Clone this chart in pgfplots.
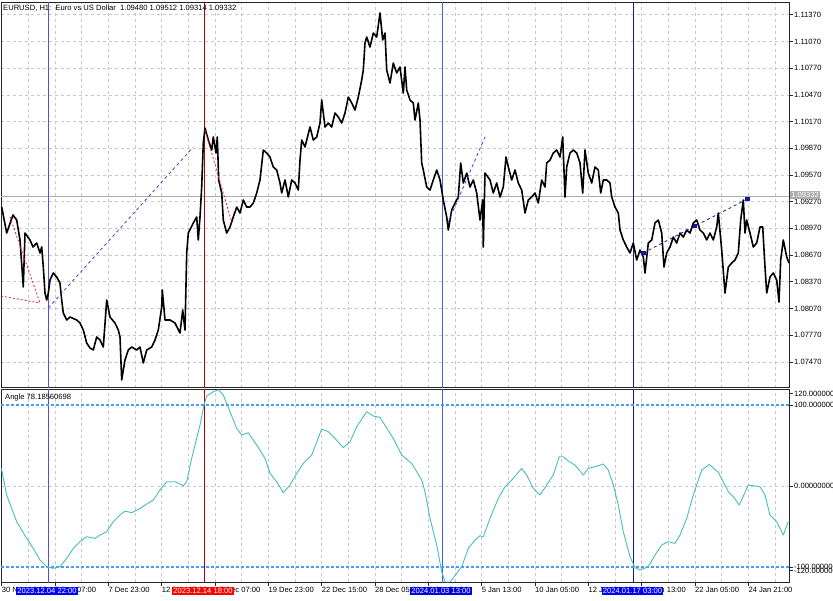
\documentclass[border=0pt]{standalone}
\usepackage{fontspec}
\setmainfont{Liberation Sans}
\usepackage{pgfplots}
\pgfplotsset{compat=1.18}
\definecolor{gridc}{HTML}{C8C8C8}
\definecolor{vline1}{HTML}{5050D8}
\definecolor{vline2}{HTML}{B00000}
\definecolor{vline3}{HTML}{4060DC}
\definecolor{vline4}{HTML}{14149C}
\definecolor{indic}{HTML}{48BEBE}
\definecolor{levblue}{RGB}{70,155,255}
\definecolor{pricegray}{HTML}{ADADAD}
\definecolor{trendblue}{HTML}{4040D0}
\definecolor{trendred}{HTML}{F02020}

\pgfplotstableread{
x y
1.7 1.09209
6.7 1.08917
13 1.09120
16.7 1.09063
20 1.08839
23.3 1.08311
25 1.08917
30 1.08839
33 1.08760
36.7 1.08805
40 1.08693
41.7 1.08760
43.3 1.08535
45 1.08243
46.7 1.08164
48.3 1.08243
50 1.08389
53.3 1.08468
56.7 1.08423
60 1.08355
61.7 1.08164
63.3 1.08018
66.7 1.07940
70 1.07973
76.7 1.07940
80 1.07906
83.3 1.07827
86.7 1.07681
90 1.07625
93.3 1.07603
96.7 1.07749
100 1.07715
103.3 1.07636
106.7 1.08164
110 1.07973
115 1.07906
118.3 1.07827
120 1.07749
121.7 1.07266
125 1.07490
128.3 1.07603
131.7 1.07636
136.7 1.07603
140 1.07636
143.3 1.07457
146.7 1.07603
151.7 1.07636
155 1.07715
158.3 1.07827
161.7 1.08086
162.3 1.08277
165 1.07940
170 1.07940
175 1.07906
180 1.07794
182.7 1.08052
185 1.07827
186.7 1.08693
188.3 1.08917
193.3 1.09030
196.7 1.09097
198.3 1.08839
200 1.09097
201.7 1.09434
203.3 1.09929
205 1.10097
208.3 1.09962
211.7 1.09850
213.3 1.09996
216 1.09816
217.3 1.09996
218.7 1.09513
221.7 1.09367
223.3 1.09063
226.7 1.08917
230 1.08985
233.3 1.09097
236.7 1.09209
240 1.09142
243.3 1.09288
246.7 1.09209
250 1.09209
253.3 1.09254
256.7 1.09367
260 1.09513
263.3 1.09850
266.7 1.09816
270 1.09771
273.3 1.09659
276.7 1.09625
280 1.09479
281.7 1.09367
285 1.09513
288.3 1.09322
291.7 1.09513
295 1.09479
298.3 1.09400
300 1.09737
301.7 1.09962
305 1.09884
310 1.10108
313.3 1.09962
316.7 1.09996
320 1.10153
321.7 1.10412
325 1.10108
328.3 1.10153
331.7 1.10108
335 1.10266
338.3 1.10221
341.7 1.10153
345 1.10266
348.3 1.10445
351.7 1.10378
355 1.10299
358.3 1.10445
361.7 1.10636
363.3 1.10749
365 1.11052
366.7 1.11119
370 1.11007
373.3 1.11164
376.7 1.11119
380 1.11389
382.7 1.11086
385 1.11164
386.7 1.10749
390 1.10603
393.3 1.10827
396.7 1.10715
400 1.10782
403.3 1.10490
405 1.10782
406.7 1.10524
410 1.10412
413.3 1.10378
415 1.10187
418.3 1.10378
420 1.10187
421.7 1.09704
423.3 1.09625
426.7 1.09434
430 1.09400
433.3 1.09513
436.7 1.09625
440 1.09513
443.3 1.09288
446.7 1.09097
448.3 1.08951
451.7 1.09176
455 1.09254
458.3 1.09322
460.7 1.09704
463.3 1.09479
466.7 1.09591
470 1.09434
473.3 1.09513
476.7 1.09367
480 1.09063
482.7 1.09288
483.3 1.08760
485 1.09591
490 1.09513
493.3 1.09367
496.7 1.09479
500 1.09322
503.3 1.09434
506 1.09771
508.3 1.09659
511.7 1.09513
515 1.09625
518.3 1.09479
521.7 1.09400
525 1.09142
528.3 1.09288
531.7 1.09322
535 1.09367
538.3 1.09254
541.7 1.09513
545 1.09434
546.7 1.09704
550 1.09737
553.3 1.09816
556.7 1.09850
560 1.09771
562.7 1.09996
565 1.09322
566.7 1.09659
570 1.09816
573.3 1.09850
576.7 1.09816
580 1.09704
582.7 1.09367
585 1.09850
588.3 1.09591
591.7 1.09479
595 1.09659
598.3 1.09625
600.7 1.09367
603.3 1.09513
606.7 1.09513
610 1.09479
611.7 1.09322
615 1.09209
618.3 1.09142
620 1.08951
623.3 1.08839
626.7 1.08760
630 1.08693
633.3 1.08805
636.7 1.08614
640 1.08726
643.3 1.08648
645 1.08468
648.3 1.08805
651.7 1.08839
655 1.09030
658.3 1.09063
661.7 1.08917
664 1.08535
666.7 1.08693
670 1.08760
673.3 1.08872
676.7 1.08805
680 1.08917
683.3 1.08872
686.7 1.08951
690 1.08917
693.3 1.09030
696.7 1.09063
700 1.08951
703.3 1.08917
706.7 1.08839
710 1.08917
713.3 1.08839
716.7 1.08985
718.3 1.09142
721.7 1.08726
725 1.08243
728.3 1.08535
731.7 1.08580
735 1.08614
738.3 1.08693
740.7 1.09063
743.3 1.09288
745 1.08917
746.7 1.09063
750 1.08917
753.3 1.08760
756.7 1.08805
760 1.08985
762.7 1.08985
765 1.08535
766.7 1.08243
770 1.08423
773.3 1.08468
776.7 1.08389
779 1.08142
780.7 1.08614
783.3 1.08839
786.7 1.08648
789 1.08580
}\pricetable

\pgfplotstableread{
x v
1 22
1.7 19.8
6.7 -11.1
16.7 -44.0
26.7 -64.6
33.3 -77.0
40 -91.4
46.7 -99.6
53.3 -101.6
60 -99.6
66.7 -89.3
73.3 -77.0
80 -68.7
86.7 -62.6
95 -64.6
100 -60.5
106.7 -56.4
113.3 -44.0
120 -35.8
125 -30.9
131.7 -32.9
140 -27.6
145 -23.5
153.3 -17.3
160 -4.9
166.7 5.3
175 5.3
183.3 0.4
186.7 5.3
191.7 34.2
200 75.3
204 100
206.7 111.1
213.3 116.5
218.3 118.9
223.3 112.3
230 91.8
236.7 71.2
241.7 63.0
248.3 65.8
256.7 50.6
265 34.2
270 15.6
276.7 5.3
283.3 -8.2
290 1.2
296.7 15.6
303.3 28.0
311.7 38.3
321.7 70.4
328.3 67.1
335 58.8
343.3 47.3
350 54.7
356.7 73.3
366.7 91.8
373.3 86.4
380 84.8
390 65.0
393.3 58.8
401.7 38.3
411.7 28.0
421.7 7.4
425 -7.0
430 -39.9
436.7 -72.8
441.7 -105.8
445 -118.5
450 -118.5
456.7 -107.8
461.7 -99.6
468.3 -77.0
475 -66.7
480 -61.3
483.3 -62.6
490 -39.9
498.3 -15.2
505 -0.8
511.7 7.4
521.7 21.8
526.7 13.6
533.3 -2.9
540 -11.1
546.7 1.2
553.3 13.6
559.3 36.2
563.3 36.2
568.3 30.9
575 25.9
583.3 13.6
588.3 21.8
595 23.9
603.3 27.2
608.3 19.8
613.3 1.2
618.3 -23.5
623.3 -56.4
630 -87.2
635 -100.8
640 -103.7
648.3 -99.6
655 -85.2
661.7 -72.8
668.3 -68.7
675 -70.8
680 -60.5
686.7 -39.9
693.3 -11.1
701.7 19.8
709.3 26.7
718.3 16.9
728.3 -7.0
733.3 -13.2
739.3 -23.5
748.3 1.2
760 -0.8
765 -11.1
770 -35.8
776.7 -44.0
783.3 -60.5
788.3 -44.0
}\angletable

\pgfplotsset{
  mtaxis/.style={
    scale only axis, width=788pt, xmin=1, xmax=789,
    axis line style={black!85, line width=0.8pt},
    grid style={gridc, dash pattern=on 3pt off 3pt, line width=0.6pt},
    tick align=outside, major tick length=4pt, minor tick length=0pt,
    tick style={black!85, line width=0.6pt},
    /pgf/number format/assume math mode=true,
    clip=true,
  }
}

\begin{document}
\fontsize{7.6}{9}\selectfont
\begin{tikzpicture}[x=1pt,y=1pt]
\clip (0,0) rectangle (833,-600);
\fill[white] (0,0) rectangle (833,-600);

% ---------- price panel ----------
\begin{axis}[mtaxis, at={(1pt,-2pt)}, anchor=north west, height=385.7pt,
  ymin=1.07179, ymax=1.11513,
  xtick={1.667,28.333,...,789}, xticklabels={}, xmajorgrids,
  xtick style={draw=none},
  ytick={1.0747,1.0777,1.0807,1.0837,1.0867,1.0897,1.0927,1.0957,1.0987,1.1017,1.1047,1.1077,1.1107,1.1137},
  yticklabels={1.07470,1.07770,1.08070,1.08370,1.08670,1.08970,1.09270,1.09570,1.09870,1.10170,1.10470,1.10770,1.11070,1.11370},
  ymajorgrids, ytick pos=right, yticklabel pos=right,
  yticklabel style={anchor=west, inner sep=1pt},
]
\addplot[pricegray, line width=0.7pt] coordinates {(1,1.09332) (789,1.09332)};
\addplot[vline1, line width=0.8pt] coordinates {(48,1.07) (48,1.12)};
\addplot[vline2, line width=0.8pt] coordinates {(204,1.07) (204,1.12)};
\addplot[vline3, line width=0.8pt] coordinates {(442,1.07) (442,1.12)};
\addplot[vline4, line width=0.8pt] coordinates {(633,1.07) (633,1.12)};
\addplot[black, line width=1.6pt, line join=round] table[x=x, y=y] {\pricetable};
\addplot[trendred, line width=0.8pt, dash pattern=on 2pt off 2pt] coordinates {(1,1.08209) (40,1.08131)};
\addplot[trendred, line width=0.8pt, dash pattern=on 2pt off 2pt] coordinates {(10,1.09097) (40,1.08131)};
\addplot[trendblue, line width=0.8pt, dash pattern=on 3pt off 3pt] coordinates {(48.3,1.08075) (193.3,1.09884)};
\addplot[trendred, line width=0.8pt, dash pattern=on 2pt off 2pt] coordinates {(205,1.10075) (232,1.09030)};
\addplot[trendblue, line width=0.8pt, dash pattern=on 3pt off 3pt] coordinates {(448.3,1.09041) (485,1.09996)};
\addplot[vline4, line width=0.8pt, dash pattern=on 3pt off 3pt, mark=square*, mark size=1.8pt, mark options={solid}] coordinates {(643.3,1.08693) (695,1.08996) (747.3,1.09299)};
\end{axis}

% ---------- indicator panel ----------
\begin{axis}[mtaxis, at={(1pt,-389pt)}, anchor=north west, height=193pt,
  ymin=-118.5, ymax=119.8,
  xtick={1.667,55,...,760}, minor xtick={28.333,81.667,...,789},
  xticklabels={30 Nov 14:00, 5 Dec 07:00, 7 Dec 23:00, 12 Dec 15:00, 15 Dec 07:00, 19 Dec 23:00, 22 Dec 15:00, 28 Dec 05:00, 2 Jan 21:00, 5 Jan 13:00, 10 Jan 05:00, 12 Jan 21:00, 17 Jan 13:00, 22 Jan 05:00, 24 Jan 21:00},
  xtick pos=bottom, xmajorgrids, xminorgrids, minor grid style={gridc, dash pattern=on 3pt off 3pt, line width=0.6pt},
  xticklabel style={anchor=north west, inner sep=1pt, xshift=-1pt},
  ytick={0}, yticklabels={0.00000000},
  ymajorgrids, ytick pos=right, yticklabel pos=right,
  yticklabel style={anchor=west, inner sep=1pt},
  extra y ticks={114,100,-100,-104.6}, extra y tick labels={120.000000,100.000000,-100.000000,-120.000000},
  extra y tick style={grid=none, yticklabel style={anchor=west, inner sep=1pt}},
]
\addplot[vline1, line width=0.8pt] coordinates {(48,-130) (48,130)};
\addplot[vline2, line width=0.8pt] coordinates {(204,-130) (204,130)};
\addplot[vline3, line width=0.8pt] coordinates {(442,-130) (442,130)};
\addplot[vline4, line width=0.8pt] coordinates {(633,-130) (633,130)};
\addplot[draw=levblue, line width=1.2pt, dash pattern=on 3pt off 2pt] coordinates {(1,100) (789,100)};
\addplot[draw=levblue, line width=1.2pt, dash pattern=on 3pt off 2pt] coordinates {(1,-100) (789,-100)};
\addplot[indic, line width=0.9pt, line join=round] table[x=x, y=v] {\angletable};
\end{axis}

% ---------- annotations ----------
\node[anchor=west, inner sep=0pt] at (3,-8) {EURUSD, H1:\ \ Euro vs US Dollar\ \ 1.09480 1.09512 1.09314 1.09332};
\node[anchor=west, inner sep=0pt] at (5,-397.5) {Angle 78.18560698};
\node[fill=pricegray, text=white, inner sep=1.2pt, anchor=west] at (790,-195) {1.09332};
\node[fill=blue, text=white, inner sep=1.3pt] at (47,-591) {2023.12.04 22:00};
\node[fill=red, text=white, inner sep=1.3pt] at (203,-591) {2023.12.14 18:00};
\node[fill=blue!88!black, text=white, inner sep=1.3pt] at (441,-591) {2024.01.03 13:00};
\node[fill=blue, text=white, inner sep=1.3pt] at (632.5,-591) {2024.01.17 03:00};
\end{tikzpicture}
\end{document}
